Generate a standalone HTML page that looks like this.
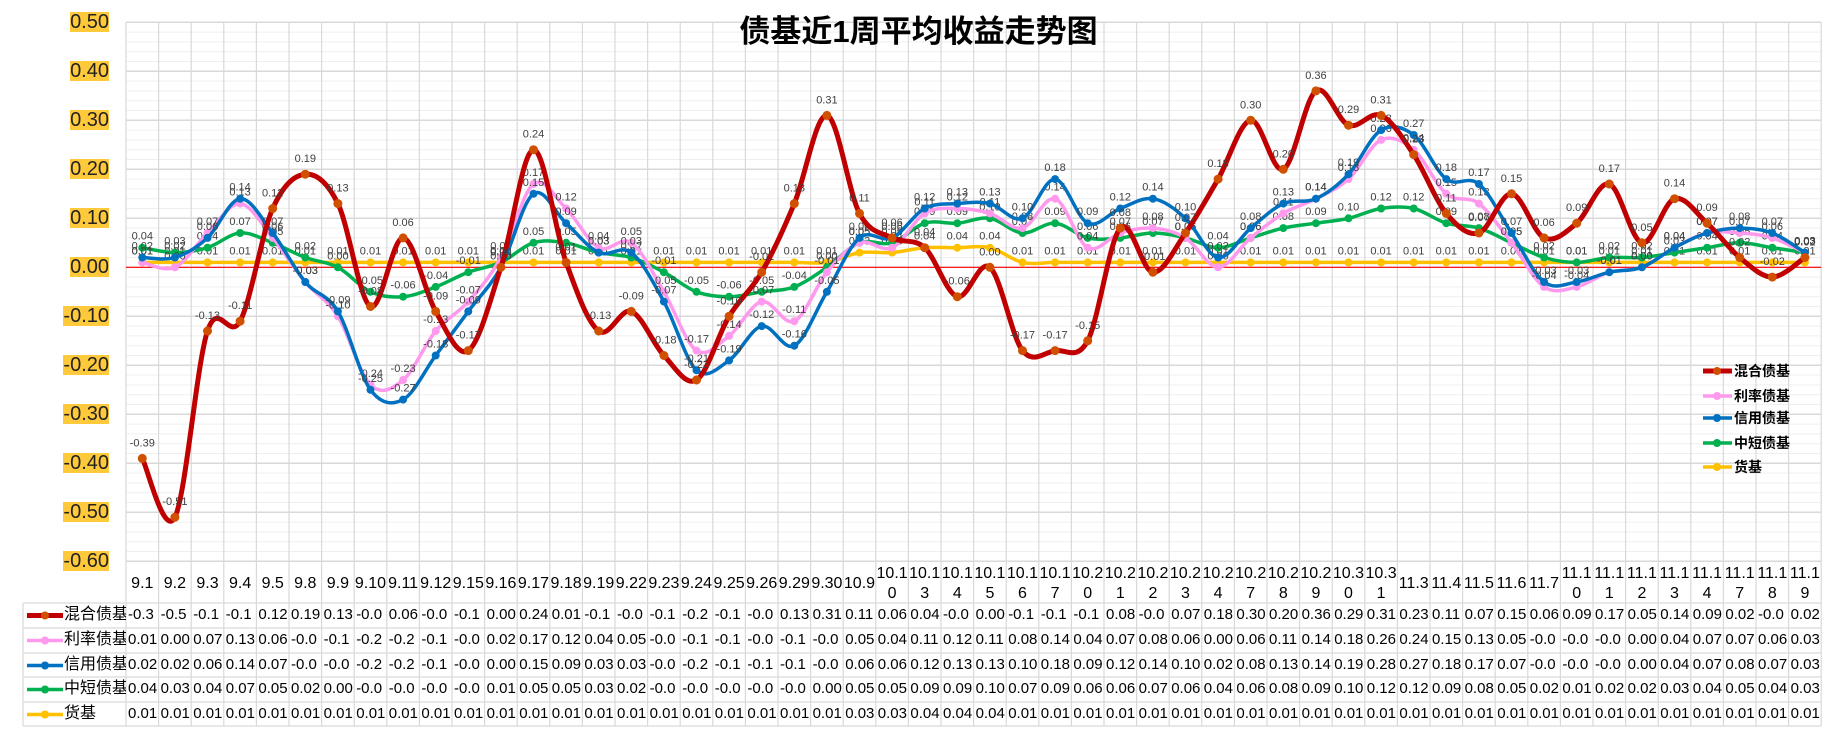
<!DOCTYPE html>
<html><head><meta charset="utf-8">
<style>
body{margin:0;background:#fff;width:1837px;height:740px;overflow:hidden;font-family:"Liberation Sans","Noto Sans CJK SC",sans-serif;}
#wrap{position:relative;width:1837px;height:740px;}
.cell{position:absolute;overflow:hidden;white-space:nowrap;font-size:15px;color:#000;box-sizing:border-box;padding-left:1px;line-height:24px;}
.cat{position:absolute;font-size:16px;text-align:center;word-break:break-all;line-height:20px;color:#000;}
.ylab{position:absolute;background:#FFC93C;font-size:20px;line-height:20px;color:#222;}
</style></head>
<body><div id="wrap">
<svg id="svg" width="1837" height="740" style="position:absolute;left:0;top:0"></svg>
<div style="position:absolute;left:0;top:6px;width:1837px;text-align:center;font-size:31px;font-weight:bold;color:#000;">债基近1周平均收益走势图</div>
</div>
<script>
const categories=["9.1","9.2","9.3","9.4","9.5","9.8","9.9","9.10","9.11","9.12","9.15","9.16","9.17","9.18","9.19","9.22","9.23","9.24","9.25","9.26","9.29","9.30","10.9","10.10","10.13","10.14","10.15","10.16","10.17","10.20","10.21","10.22","10.23","10.24","10.27","10.28","10.29","10.30","10.31","11.3","11.4","11.5","11.6","11.7","11.10","11.11","11.12","11.13","11.14","11.17","11.18","11.19"];
const seriesNames=["混合债基","利率债基","信用债基","中短债基","货基"];
const seriesColors=["#C00000","#FF99EE","#0070C0","#00B050","#FFC000"];
const mixed=[-0.39,-0.51,-0.13,-0.11,0.12,0.19,0.13,-0.08,0.06,-0.09,-0.17,0.00,0.24,0.01,-0.13,-0.09,-0.18,-0.23,-0.10,-0.01,0.13,0.31,0.11,0.06,0.04,-0.06,0.00,-0.17,-0.17,-0.15,0.08,-0.01,0.07,0.18,0.30,0.20,0.36,0.29,0.31,0.23,0.11,0.07,0.15,0.06,0.09,0.17,0.05,0.14,0.09,0.02,-0.02,0.02];
const rate=[0.01,0.00,0.07,0.13,0.06,-0.03,-0.10,-0.24,-0.23,-0.13,-0.07,0.02,0.17,0.12,0.04,0.05,-0.05,-0.17,-0.14,-0.07,-0.11,-0.01,0.05,0.04,0.11,0.12,0.11,0.08,0.14,0.04,0.07,0.08,0.06,0.00,0.06,0.11,0.14,0.18,0.26,0.24,0.15,0.13,0.05,-0.04,-0.04,-0.01,0.00,0.04,0.07,0.07,0.06,0.03];
const credit=[0.02,0.02,0.06,0.14,0.07,-0.03,-0.09,-0.25,-0.27,-0.18,-0.09,0.00,0.15,0.09,0.03,0.03,-0.07,-0.21,-0.19,-0.12,-0.16,-0.05,0.06,0.06,0.12,0.13,0.13,0.10,0.18,0.09,0.12,0.14,0.10,0.02,0.08,0.13,0.14,0.19,0.28,0.27,0.18,0.17,0.07,-0.03,-0.03,-0.01,0.00,0.04,0.07,0.08,0.07,0.03];
const shortTerm=[0.04,0.03,0.04,0.07,0.05,0.02,0.00,-0.05,-0.06,-0.04,-0.01,0.01,0.05,0.05,0.03,0.02,-0.01,-0.05,-0.06,-0.05,-0.04,0.00,0.05,0.05,0.09,0.09,0.10,0.07,0.09,0.06,0.06,0.07,0.06,0.04,0.06,0.08,0.09,0.10,0.12,0.12,0.09,0.08,0.05,0.02,0.01,0.02,0.02,0.03,0.04,0.05,0.04,0.03];
const money=[0.01,0.01,0.01,0.01,0.01,0.01,0.01,0.01,0.01,0.01,0.01,0.01,0.01,0.01,0.01,0.01,0.01,0.01,0.01,0.01,0.01,0.01,0.03,0.03,0.04,0.04,0.04,0.01,0.01,0.01,0.01,0.01,0.01,0.01,0.01,0.01,0.01,0.01,0.01,0.01,0.01,0.01,0.01,0.01,0.01,0.01,0.01,0.01,0.01,0.01,0.01,0.01];
const yTicks=[0.5,0.4,0.3,0.2,0.1,0,-0.1,-0.2,-0.3,-0.4,-0.5,-0.6];
const seriesData=[mixed,rate,credit,shortTerm,money];

const NS="http://www.w3.org/2000/svg";
const svg=document.getElementById('svg');
const wrap=document.getElementById('wrap');
const L=126,STEP=32.6,R=L+STEP*categories.length,Y0=267.3,PPU=490,TOP=22.3,BOT=561.3;
const xC=i=>L+STEP*(i+0.5);
const yV=v=>Y0-v*PPU;
function mk(tag,attrs){const e=document.createElementNS(NS,tag);for(const k in attrs)e.setAttribute(k,attrs[k]);svg.appendChild(e);return e;}
for(let v=-0.6;v<=0.5001;v+=0.02){const l=mk('line',{x1:L,x2:R,y1:yV(v),y2:yV(v),stroke:'#efefef','stroke-width':1});

}
yTicks.forEach(t=>{const l=mk('line',{x1:L,x2:R,y1:yV(t),y2:yV(t),stroke:'#d9d9d9','stroke-width':1.5});


const d=document.createElement('div');d.className='ylab';d.textContent=t.toFixed(2);
d.style.right=(1837-109)+'px';d.style.top=(yV(t)-10)+'px';


wrap.appendChild(d);});
for(let i=0;i<=categories.length;i++){const x=L+STEP*i;const l=mk('line',{x1:x,x2:x,y1:TOP,y2:726,stroke:'#d9d9d9','stroke-width':1.2});

}
[603,628,653,677,702,726].forEach(y=>{const l=mk('line',{x1:23,x2:R,y1:y,y2:y,stroke:'#d9d9d9','stroke-width':1.2});

});
{const l=mk('line',{x1:23,x2:23,y1:603,y2:726,stroke:'#d9d9d9','stroke-width':1.2});

}
{const l=mk('line',{x1:L,x2:R,y1:Y0,y2:Y0,stroke:'#FF0000','stroke-width':1.2});

}
function smooth(pts){let d='M'+pts[0][0]+','+pts[0][1];for(let i=0;i<pts.length-1;i++){const p0=pts[Math.max(0,i-1)],p1=pts[i],p2=pts[i+1],p3=pts[Math.min(pts.length-1,i+2)];const t=1/6;
d+=' C'+(p1[0]+(p2[0]-p0[0])*t)+','+(p1[1]+(p2[1]-p0[1])*t)+' '+(p2[0]-(p3[0]-p1[0])*t)+','+(p2[1]-(p3[1]-p1[1])*t)+' '+p2[0]+','+p2[1];}return d;}
const order=[4,3,1,2,0];
order.forEach(s=>{const data=seriesData[s];const pts=data.map((v,i)=>[xC(i),yV(v)]);
const p=mk('path',{d:smooth(pts),fill:'none',stroke:seriesColors[s],'stroke-width':s===0?5:3.5});


pts.forEach((q,i)=>{const c=mk('circle',{cx:q[0],cy:q[1],r:s===0?4.5:4,fill:s===0?'#D05000':seriesColors[s]});


const t=mk('text',{x:q[0],y:q[1]-(s===0?12:8),'text-anchor':'middle','font-size':11,fill:'#404040'});
t.textContent=data[i].toFixed(2);

});});
seriesNames.forEach((n,s)=>{const y=[371,396,418,443,467][s];
const l=mk('line',{x1:1703,x2:1732,y1:y,y2:y,stroke:seriesColors[s],'stroke-width':s===0?5:3.5});


const c=mk('circle',{cx:1717,cy:y,r:4,fill:s===0?'#D05000':seriesColors[s]});


const t=mk('text',{x:1734,y:y+5,'font-size':14,'font-weight':'bold',fill:'#000'});t.textContent=n;

});
categories.forEach((c,i)=>{const d=document.createElement('div');d.className='cat';d.textContent=c;
d.style.left=(L+STEP*i)+'px';d.style.width=STEP+'px';
d.style.top=(c.length>4?564:574)+'px';


wrap.appendChild(d);});
const rowTops=[603,628,653,677,702];
seriesNames.forEach((n,s)=>{const top=rowTops[s];
const l=mk('line',{x1:27,x2:63,y1:top+12.5,y2:top+12.5,stroke:seriesColors[s],'stroke-width':s===0?5:3.5});


const c=mk('circle',{cx:45,cy:top+12.5,r:4,fill:s===0?'#D05000':seriesColors[s]});


const h=document.createElement('div');h.className='cell';h.textContent=n;h.style.left='63px';h.style.top=top+'px';h.style.width='63px';h.style.fontSize='16px';


wrap.appendChild(h);
seriesData[s].forEach((v,i)=>{const d=document.createElement('div');d.className='cell';const txt=v.toFixed(2);d.textContent=txt.length>4?txt.slice(0,4):txt;
d.style.left=(L+STEP*i+1)+'px';d.style.top=top+'px';d.style.width=(STEP-2)+'px';


wrap.appendChild(d);});});
</script>
</body></html>
